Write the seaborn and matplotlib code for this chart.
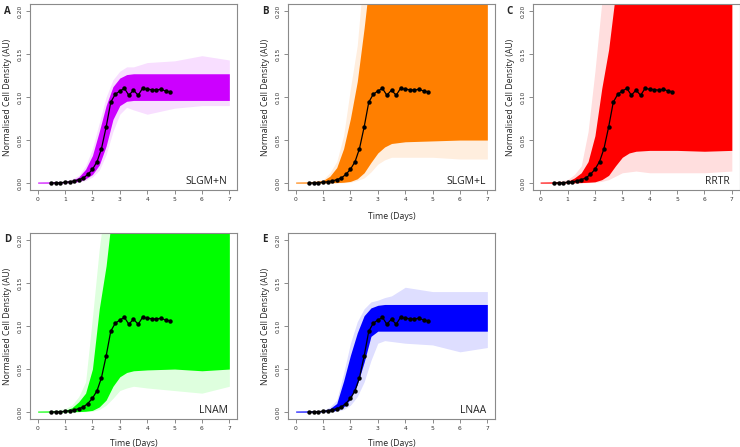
import matplotlib
matplotlib.use("Agg")
import matplotlib.pyplot as plt
import seaborn as sns
import pandas as pd

# ---- data ----
obs_t = [0.5, 0.67, 0.83, 1.0, 1.17, 1.33, 1.5, 1.67, 1.83, 2.0, 2.17, 2.33, 2.5, 2.67,
         2.83, 3.0, 3.17, 3.33, 3.5, 3.67, 3.83, 4.0, 4.17, 4.33, 4.5, 4.67, 4.83]
obs_y = [0.0, 0.0003, 0.0005, 0.001, 0.0015, 0.0025, 0.004, 0.006, 0.010, 0.016, 0.025,
         0.040, 0.065, 0.094, 0.103, 0.107, 0.110, 0.102, 0.108, 0.102, 0.110, 0.109,
         0.1085, 0.108, 0.109, 0.107, 0.106]

env_t = [0, 0.5, 1.0, 1.25, 1.5, 1.75, 2.0, 2.25, 2.5, 2.75, 3.0, 3.25, 3.5, 4.0, 5.0, 6.0, 7.0]

A_core_hi = [0.0012, 0.0014, 0.0018, 0.003, 0.007, 0.016, 0.032, 0.06, 0.09, 0.112, 0.122, 0.126, 0.127, 0.127, 0.127, 0.127, 0.127]
A_core_lo = [0, 0, 0.0003, 0.001, 0.002, 0.005, 0.01, 0.021, 0.043, 0.074, 0.09, 0.095, 0.096, 0.096, 0.096, 0.096, 0.096]
A_faint_hi = [0.0015, 0.0018, 0.0025, 0.005, 0.009, 0.02, 0.04, 0.07, 0.1, 0.12, 0.13, 0.135, 0.135, 0.14, 0.142, 0.148, 0.143]
A_faint_lo = [0, 0, 0.0002, 0.0005, 0.001, 0.003, 0.007, 0.015, 0.033, 0.06, 0.08, 0.088, 0.085, 0.08, 0.087, 0.09, 0.09]

B_core_hi = [0.0012, 0.0014, 0.003, 0.008, 0.018, 0.04, 0.075, 0.118, 0.18, 0.25, 0.25, 0.25, 0.25, 0.25, 0.25, 0.25, 0.25]
B_core_lo = [0, 0, 0.0002, 0.0004, 0.0006, 0.001, 0.002, 0.005, 0.012, 0.024, 0.035, 0.042, 0.046, 0.048, 0.049, 0.05, 0.05]
B_faint_hi = [0.0015, 0.0018, 0.004, 0.012, 0.025, 0.055, 0.11, 0.16, 0.25, 0.25, 0.25, 0.25, 0.25, 0.25, 0.25, 0.25, 0.25]
B_faint_lo = [0, 0, 0.0001, 0.0002, 0.0003, 0.0005, 0.001, 0.003, 0.006, 0.013, 0.022, 0.027, 0.03, 0.03, 0.03, 0.028, 0.028]

C_core_hi = [0.0012, 0.0014, 0.002, 0.006, 0.012, 0.025, 0.055, 0.11, 0.155, 0.22, 0.25, 0.25, 0.25, 0.25, 0.25, 0.25, 0.25]
C_core_lo = [0, 0, 0.0002, 0.0004, 0.0006, 0.001, 0.0015, 0.004, 0.009, 0.02, 0.03, 0.035, 0.037, 0.038, 0.038, 0.037, 0.038]
C_faint_hi = [0.0015, 0.0018, 0.004, 0.01, 0.02, 0.06, 0.13, 0.21, 0.25, 0.25, 0.25, 0.25, 0.25, 0.25, 0.25, 0.25, 0.25]
C_faint_lo = [0, 0, 0.0001, 0.0002, 0.0003, 0.0005, 0.001, 0.002, 0.004, 0.008, 0.012, 0.013, 0.014, 0.012, 0.012, 0.012, 0.014]

D_core_hi = [0.0012, 0.0014, 0.002, 0.005, 0.012, 0.022, 0.05, 0.12, 0.17, 0.24, 0.25, 0.25, 0.25, 0.25, 0.25, 0.25, 0.25]
D_core_lo = [0, 0, 0.0002, 0.0004, 0.0006, 0.001, 0.002, 0.006, 0.014, 0.03, 0.041, 0.046, 0.048, 0.049, 0.05, 0.048, 0.05]
D_faint_hi = [0.0015, 0.0018, 0.004, 0.008, 0.018, 0.035, 0.11, 0.19, 0.25, 0.25, 0.25, 0.25, 0.25, 0.25, 0.25, 0.25, 0.25]
D_faint_lo = [0, 0, 0.0001, 0.0002, 0.0003, 0.0005, 0.001, 0.003, 0.008, 0.016, 0.025, 0.028, 0.03, 0.028, 0.025, 0.022, 0.03]

E_core_hi = [0.0012, 0.0014, 0.0018, 0.004, 0.01, 0.036, 0.066, 0.092, 0.112, 0.121, 0.124, 0.125, 0.125, 0.125, 0.125, 0.125, 0.125]
E_core_lo = [0, 0, 0.0003, 0.001, 0.002, 0.006, 0.015, 0.032, 0.058, 0.088, 0.094, 0.094, 0.094, 0.094, 0.094, 0.094, 0.094]
E_faint_hi = [0.0015, 0.0018, 0.0025, 0.006, 0.014, 0.045, 0.08, 0.105, 0.12, 0.128, 0.13, 0.133, 0.135, 0.145, 0.14, 0.14, 0.14]
E_faint_lo = [0, 0, 0.0002, 0.0005, 0.001, 0.003, 0.008, 0.018, 0.035, 0.06, 0.08, 0.083, 0.082, 0.08, 0.078, 0.07, 0.075]

panel_letters = ["A", "B", "C", "D", "E"]
panel_names = ["SLGM+N", "SLGM+L", "RRTR", "LNAM", "LNAA"]
panel_colors = ["#CC00FF", "#FF7F00", "#FF0000", "#00FF00", "#0000FF"]
x_ticks = [0, 1, 2, 3, 4, 5, 6, 7]
y_ticks = [0.00, 0.05, 0.10, 0.15, 0.20]
y_ticklabels = ["0.00", "0.05", "0.10", "0.15", "0.20"]
show_xlabel = [False, True, False, True, True]

envelopes = [
    (A_core_lo, A_core_hi, A_faint_lo, A_faint_hi),
    (B_core_lo, B_core_hi, B_faint_lo, B_faint_hi),
    (C_core_lo, C_core_hi, C_faint_lo, C_faint_hi),
    (D_core_lo, D_core_hi, D_faint_lo, D_faint_hi),
    (E_core_lo, E_core_hi, E_faint_lo, E_faint_hi),
]

# ---- style ----
sns.set_style("ticks")
plt.rcParams["font.family"] = ["Open Sans", "DejaVu Sans"]

W, H = 740, 447
fig = plt.figure(figsize=(W / 100, H / 100), dpi=100)

# axes boxes in pixels (left, top, right, bottom)
boxes = [(30, 4, 237, 190), (288, 4, 495, 190), (532.5, 4, 739.5, 190),
         (30, 233, 237, 419), (288, 233, 495, 419)]

obs_df = pd.DataFrame({"t": obs_t, "y": obs_y})
edge = "#8a8a8a"

for i in range(5):
    l, t, r, b = boxes[i]
    ax = fig.add_axes([l / W, 1 - b / H, (r - l) / W, (b - t) / H])
    lo, hi, flo, fhi = envelopes[i]
    col = panel_colors[i]
    ax.fill_between(env_t, flo, fhi, color=col, alpha=0.13, lw=0)
    ax.fill_between(env_t, lo, hi, color=col, alpha=1.0, lw=0)
    sns.lineplot(data=obs_df, x="t", y="y", ax=ax, color="black", lw=0.9,
                 marker="o", markersize=3.2, markeredgewidth=0, estimator=None)
    ax.set_xlim(-0.28, 7.28)
    ax.set_ylim(-0.008, 0.208)
    ax.set_xticks(x_ticks)
    ax.set_xticklabels([str(v) for v in x_ticks], fontsize=4.3, family=["DejaVu Sans"])
    ax.set_yticks(y_ticks)
    ax.set_yticklabels(y_ticklabels, fontsize=4.3, rotation=90, va="center",
                       family=["DejaVu Sans"])
    ax.tick_params(length=3, width=0.7, color=edge, pad=2, labelcolor="#333333")
    for s in ax.spines.values():
        s.set_color(edge)
        s.set_linewidth(0.8)
        s.set_visible(True)
    ax.set_ylabel("Normalised Cell Density (AU)", fontsize=6.3, labelpad=4)
    if show_xlabel[i]:
        ax.set_xlabel("Time (Days)", fontsize=6.3, labelpad=7 if i < 3 else 5.5)
    else:
        ax.set_xlabel("")
    ax.text(0.955, 0.045, panel_names[i], transform=ax.transAxes, ha="right",
            va="center", fontsize=7.5, color="#222222")
    fig.text((l - 26) / W, 1 - (t + 7) / H, panel_letters[i], fontsize=7,
             fontweight="bold", ha="left", va="center")

fig.savefig("out.png", dpi=100)
